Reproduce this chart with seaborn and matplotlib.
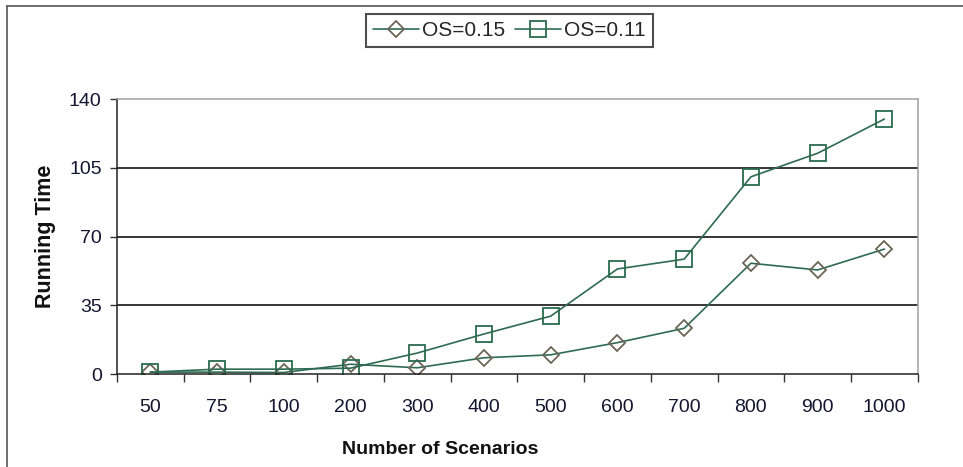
import matplotlib
matplotlib.use("Agg")
import matplotlib.pyplot as plt
import seaborn as sns
import pandas as pd
import numpy as np
from matplotlib.ticker import FixedLocator
from matplotlib.lines import Line2D

categories = ["50", "75", "100", "200", "300", "400", "500", "600", "700", "800", "900", "1000"]
os015 = [1.0, 1.0, 0.8, 5.0, 3.2, 8.3, 9.8, 16.0, 23.3, 56.4, 53.0, 63.6]
os011 = [1.0, 2.5, 2.5, 3.0, 10.7, 20.4, 29.5, 53.5, 58.5, 100.4, 112.4, 129.8]
yticks = [0, 35, 70, 105, 140]

sns.set_theme(style="white")
plt.rcParams['font.family'] = ['Liberation Sans', 'DejaVu Sans']

fig = plt.figure(figsize=(9.63, 4.67), dpi=100)
# partial outer frame (left and top edges)
fig.add_artist(Line2D([7/963, 7/963], [0, 1 - 5.5/467], transform=fig.transFigure,
                      color='#555555', lw=1.2))
fig.add_artist(Line2D([7/963, 1], [1 - 5.5/467, 1 - 5.5/467], transform=fig.transFigure,
                      color='#555555', lw=1.2))

ax = fig.add_axes([0.1215, 0.199, 0.8315, 0.589])

line_col = '#2f6b52'
df1 = pd.DataFrame({"cat": categories, "val": os015})
df2 = pd.DataFrame({"cat": categories, "val": os011})

sns.pointplot(data=df1, x="cat", y="val", ax=ax, color=line_col, marker='D',
              markersize=8, markerfacecolor='none', markeredgecolor='#6b6658',
              markeredgewidth=1.3, linewidth=1.2, label="OS=0.15", order=categories)
sns.pointplot(data=df2, x="cat", y="val", ax=ax, color=line_col, marker='s',
              markersize=12, markerfacecolor='none', markeredgecolor='#2a6a4e',
              markeredgewidth=1.3, linewidth=1.2, label="OS=0.11", order=categories)

ax.set_xlim(-0.5, len(categories) - 0.5)
ax.set_ylim(0, 140)
ax.set_yticks(yticks)
for y in yticks[1:-1]:
    ax.axhline(y, color='black', lw=1.1, zorder=0)

ax.xaxis.set_minor_locator(FixedLocator(np.arange(-0.5, len(categories), 1.0)))
ax.tick_params(axis='x', which='major', length=0, pad=18, labelsize=14, labelcolor='#151530')
ax.tick_params(axis='x', which='minor', length=6, width=1, color='#333333', direction='out', bottom=True)
ax.tick_params(axis='y', which='major', length=5, width=1, color='#333333', direction='out', left=True,
               labelsize=14, labelcolor='#151530', pad=6)

for s in ['left', 'bottom']:
    ax.spines[s].set_color('#222222')
    ax.spines[s].set_linewidth(1.1)
for s in ['top', 'right']:
    ax.spines[s].set_color('#a0a0a0')
    ax.spines[s].set_linewidth(1.1)

ax.set_xlabel("Number of Scenarios", fontsize=14, fontweight='bold', color='#111111')
ax.set_ylabel("Running Time", fontsize=15.5, fontweight='bold', color='#111111')
ax.xaxis.set_label_coords(0.403, -0.245)
ax.yaxis.set_label_coords(-0.076, 0.5)

leg = ax.legend(loc='center', bbox_to_anchor=(0.529, 0.935), bbox_transform=fig.transFigure,
                ncol=2, frameon=True, fancybox=False, fontsize=15, handlelength=2.2,
                columnspacing=0.5, handletextpad=0.15, borderpad=0.33, borderaxespad=0)
leg.get_frame().set_edgecolor('#222222')
leg.get_frame().set_linewidth(1.5)

fig.savefig("out.png", dpi=100)
